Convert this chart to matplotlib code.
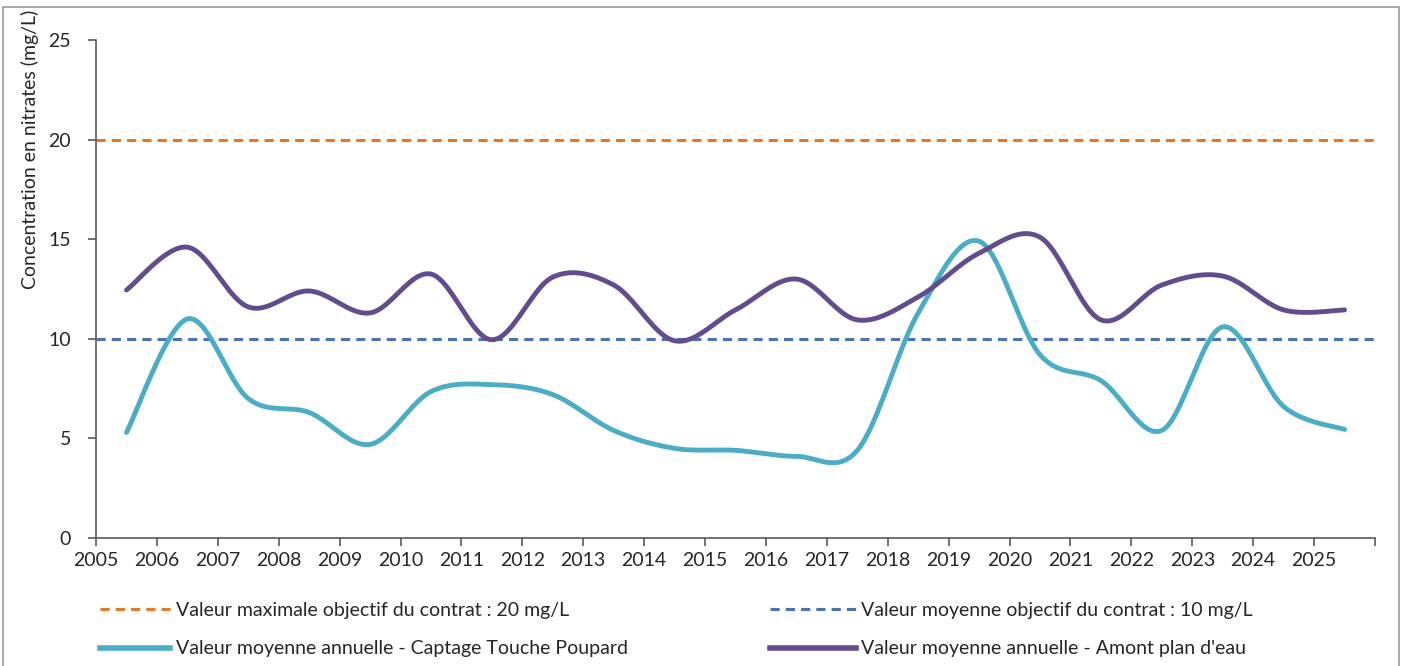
import numpy as np
import matplotlib
matplotlib.use("Agg")
import matplotlib.pyplot as plt
from matplotlib.lines import Line2D
from matplotlib.patches import Rectangle

plt.rcParams['font.family'] = ['Lato', 'DejaVu Sans']

years = list(range(2005, 2026))
captage = [5.3, 11.0, 7.0, 6.3, 4.7, 7.35, 7.7, 7.2, 5.4, 4.5, 4.4,
           4.1, 4.4, 11.3, 14.9, 9.2, 7.9, 5.4, 10.6, 6.6, 5.45]
amont = [12.45, 14.6, 11.6, 12.4, 11.3, 13.25, 9.95, 13.1, 12.7, 9.9, 11.45,
         13.0, 10.95, 12.1, 14.3, 15.1, 10.95, 12.7, 13.15, 11.45, 11.45]
obj_max = 20
obj_moy = 10

lbl_max = "Valeur maximale objectif du contrat : 20 mg/L"
lbl_moy = "Valeur moyenne objectif du contrat : 10 mg/L"
lbl_cap = "Valeur moyenne annuelle - Captage Touche Poupard"
lbl_amo = "Valeur moyenne annuelle - Amont plan d'eau"


def smooth(x, y, n=24):
    # cubic bezier through the points, catmull-rom tangents (like a smoothed excel line)
    x = np.asarray(x, float)
    y = np.asarray(y, float)
    px = np.concatenate([[x[0]], x, [x[-1]]])
    py = np.concatenate([[y[0]], y, [y[-1]]])
    t = np.linspace(0, 1, n)[:, None]
    xs, ys = [], []
    for i in range(1, len(px) - 2):
        p0 = np.array([px[i], py[i]])
        p3 = np.array([px[i + 1], py[i + 1]])
        p1 = p0 + (np.array([px[i + 1], py[i + 1]]) - np.array([px[i - 1], py[i - 1]])) / 6
        p2 = p3 - (np.array([px[i + 2], py[i + 2]]) - np.array([px[i], py[i]])) / 6
        b = ((1 - t) ** 3) * p0 + 3 * ((1 - t) ** 2) * t * p1 + 3 * (1 - t) * t ** 2 * p2 + t ** 3 * p3
        xs.append(b[:, 0])
        ys.append(b[:, 1])
    return np.concatenate(xs), np.concatenate(ys)


fig = plt.figure(figsize=(14.05, 6.66), dpi=100)
ax = fig.add_axes([96 / 1405, 1 - 538 / 666, 1279 / 1405, 498 / 666])

xpos = np.array(years) + 0.5
c_orange = "#E87722"
c_blue = "#4A72B8"
c_cyan = "#4BACC6"
c_purple = "#634C8E"

ax.axhline(obj_max, color=c_orange, lw=2.2, ls=(0, (3, 2)))
ax.axhline(obj_moy, color=c_blue, lw=2.2, ls=(0, (3, 2)))
sx, sy = smooth(xpos, captage)
ax.plot(sx, sy, color=c_cyan, lw=3.5, solid_capstyle='round')
sx, sy = smooth(xpos, amont)
ax.plot(sx, sy, color=c_purple, lw=3.5, solid_capstyle='round')

ax.set_xlim(2005, 2026)
ax.set_ylim(0, 25)
ax.set_xticks(range(2005, 2027))
ax.set_xticklabels([str(y) for y in years] + [""])
ax.set_yticks(range(0, 26, 5))
for s in ["top", "right"]:
    ax.spines[s].set_visible(False)
for s in ["left", "bottom"]:
    ax.spines[s].set_color("#595959")
    ax.spines[s].set_linewidth(1.2)
ax.tick_params(axis="both", colors="#595959", labelcolor="#262626", labelsize=14,
               length=6, width=1.2)
ax.tick_params(axis="y", pad=12)
ax.tick_params(axis="x", pad=4)
ax.set_ylabel("Concentration en nitrates (mg/L)", fontsize=14, color="#262626")
ax.yaxis.set_label_coords(-0.0445, 0.78)

# legend, two columns placed under the axis
h_max = Line2D([], [], color=c_orange, lw=2.2, ls=(0, (3, 2)))
h_moy = Line2D([], [], color=c_blue, lw=2.2, ls=(0, (3, 2)))
h_cap = Line2D([], [], color=c_cyan, lw=4)
h_amo = Line2D([], [], color=c_purple, lw=4)
kw = dict(frameon=False, fontsize=14, handletextpad=0.3,
          labelspacing=1.1, loc="upper left", borderaxespad=0, borderpad=0)
leg1 = fig.legend([h_max, h_cap], [lbl_max, lbl_cap], handlelength=3.6,
                  bbox_to_anchor=(100 / 1405, 1 - 602 / 666), **kw)
leg2 = fig.legend([h_moy, h_amo], [lbl_moy, lbl_amo], handlelength=4.4,
                  bbox_to_anchor=(770 / 1405, 1 - 602 / 666), **kw)
for leg in (leg1, leg2):
    for t in leg.get_texts():
        t.set_color("#262626")

fig.patches.append(Rectangle((3 / 1405, -0.1), 1396 / 1405, 1.1 - 7 / 666, transform=fig.transFigure,
                             fill=False, edgecolor="#9a9a9a", lw=1.2))

fig.savefig("out.png", dpi=100)
